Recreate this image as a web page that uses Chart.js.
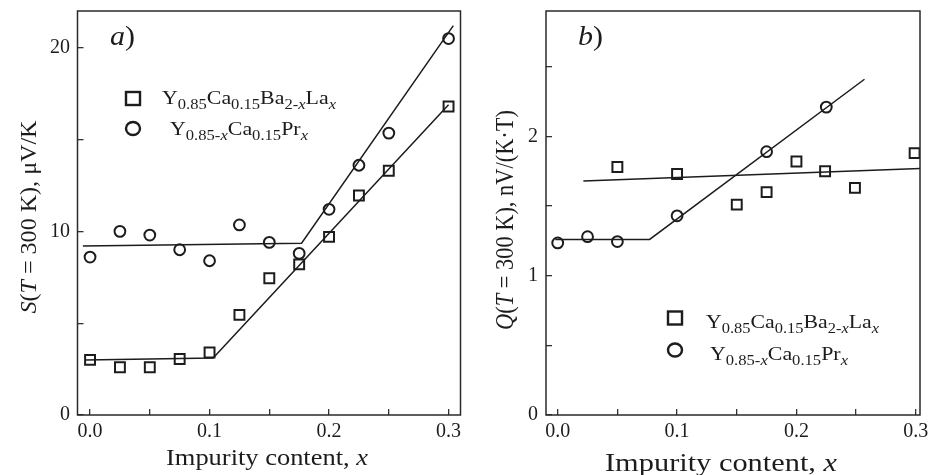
<!DOCTYPE html>
<html>
<head>
<meta charset="utf-8">
<script src="https://cdn.jsdelivr.net/npm/chart.js@4.4.0/dist/chart.umd.min.js"></script>
<style>
  html, body { margin: 0; padding: 0; background: #fff; }
  #wrap { position: relative; width: 929px; height: 475px; }
  .panel { position: absolute; top: 0; height: 475px; }
  #pa { left: 0; width: 470px; }
  #pb { left: 470px; width: 459px; }
</style>
</head>
<body>
<div id="wrap">
  <div class="panel" id="pa"><canvas id="chartA"></canvas></div>
  <div class="panel" id="pb"><canvas id="chartB"></canvas></div>
</div>
<script>
// a) thermopower S(T = 300 K)
const xA = [0, 0.025, 0.05, 0.075, 0.1, 0.125, 0.15, 0.175, 0.2, 0.225, 0.25, 0.3];
const sLa = [3.0, 2.6, 2.6, 3.05, 3.4, 5.45, 7.45, 8.2, 9.7, 11.95, 13.3, 16.8];
const sPr = [8.6, 10.0, 9.8, 9.0, 8.4, 10.35, 9.4, 8.8, 11.2, 13.6, 15.35, 20.5];
const fitLaAx = [-0.004, 0.103, 0.3];
const fitLaAy = [3.0, 3.1, 16.9];
const fitPrAx = [-0.006, 0.177, 0.304];
const fitPrAy = [9.2, 9.35, 21.2];

// b) Q(T = 300 K)
const xBLa = [0.05, 0.1, 0.15, 0.175, 0.2, 0.224, 0.249, 0.299];
const qLa = [1.78, 1.73, 1.51, 1.60, 1.82, 1.75, 1.63, 1.88];
const xBPr = [0, 0.025, 0.05, 0.1, 0.175, 0.225];
const qPr = [1.235, 1.28, 1.245, 1.43, 1.89, 2.21];
const fitLaBx = [0.0215, 0.305];
const fitLaBy = [1.68, 1.77];
const fitPrBx = [-0.002, 0.077, 0.257];
const fitPrBy = [1.26, 1.26, 2.41];

// ticks
const xTicks = [0, 0.05, 0.1, 0.15, 0.2, 0.25, 0.3];
const xLabels = ['0.0', '', '0.1', '', '0.2', '', '0.3'];
const yTicksA = [0, 5, 10, 15, 20];
const yLabelsA = ['0', '', '10', '', '20'];
const yTicksB = [0, 0.5, 1, 1.5, 2, 2.5];
const yLabelsB = ['0', '', '1', '', '2', ''];

const ink = '#1c1c1c';
const serif = '"Liberation Serif", "Times New Roman", serif';

// legend / title text pieces
const legLa = [{t: 'Y'}, {t: '0.85', sub: 1}, {t: 'Ca'}, {t: '0.15', sub: 1}, {t: 'Ba'}, {t: '2-', sub: 1}, {t: 'x', sub: 1, it: 1}, {t: 'La'}, {t: 'x', sub: 1, it: 1}];
const legPr = [{t: 'Y'}, {t: '0.85-', sub: 1}, {t: 'x', sub: 1, it: 1}, {t: 'Ca'}, {t: '0.15', sub: 1}, {t: 'Pr'}, {t: 'x', sub: 1, it: 1}];
const xTitle = [{t: 'Impurity content, '}, {t: 'x', it: 1}];
const yTitleA = [{t: 'S', it: 1}, {t: '('}, {t: 'T', it: 1}, {t: ' = 300 K), \u03bcV/K'}];
const yTitleB = [{t: 'Q', it: 1}, {t: '('}, {t: 'T', it: 1}, {t: ' = 300 K), nV/(K\u00b7T)'}];

function fontOf(s, size) {
  const px = s.sub ? size * 0.76 : size;
  return (s.it ? 'italic ' : '') + px.toFixed(1) + 'px ' + serif;
}

function richWidth(ctx, segs, size) {
  let w = 0;
  for (const s of segs) { ctx.font = fontOf(s, size); w += ctx.measureText(s.t).width; }
  return w;
}

// draws text runs with italics and subscripts, squeezed/stretched to a target width
function drawRich(ctx, segs, o) {
  ctx.save();
  ctx.translate(o.x, o.y);
  if (o.rot) ctx.rotate(o.rot);
  const nat = richWidth(ctx, segs, o.size);
  ctx.scale(o.w ? o.w / nat : 1, 1);
  let cx = o.center ? -nat / 2 : 0;
  ctx.textAlign = 'left';
  ctx.textBaseline = 'alphabetic';
  ctx.fillStyle = ink;
  for (const s of segs) {
    ctx.font = fontOf(s, o.size);
    ctx.fillText(s.t, cx, s.sub ? o.size * 0.28 : 0);
    cx += ctx.measureText(s.t).width;
  }
  ctx.restore();
}

function deco(p) {
  return {
    id: 'deco',
    afterDraw(chart) {
      const ctx = chart.ctx, a = chart.chartArea;
      ctx.save();
      ctx.strokeStyle = '#2a2a2a';
      ctx.lineWidth = 1.5;
      ctx.strokeRect(a.left, a.top, a.right - a.left, a.bottom - a.top);
      // legend markers
      ctx.strokeStyle = ink;
      ctx.lineWidth = 2.4;
      ctx.strokeRect(p.leg.mx - 7, p.leg.y1 - 6.5, 14, 13);
      ctx.beginPath();
      ctx.ellipse(p.leg.mx, p.leg.y2, 7, 6.5, 0, 0, Math.PI * 2);
      ctx.stroke();
      ctx.restore();

      drawRich(ctx, legLa, {x: p.leg.t1x, y: p.leg.b1, size: 19, w: p.leg.w1});
      drawRich(ctx, legPr, {x: p.leg.t2x, y: p.leg.b2, size: 19, w: p.leg.w2});
      drawRich(ctx, [{t: p.tag.t, it: 1}, {t: ')'}], {x: p.tag.x, y: p.tag.y, size: 28, w: 25});
      drawRich(ctx, xTitle, {x: p.xt.x, y: p.xt.y, size: p.xt.size, w: p.xt.w, center: 1});
      drawRich(ctx, p.yt.segs, {x: p.yt.x, y: p.yt.y, size: p.yt.size, w: p.yt.w, center: 1, rot: -Math.PI / 2});
    }
  };
}

function pts(xs, ys) { return xs.map((x, i) => ({x, y: ys[i]})); }

function markers(xs, ys, style, r) {
  return {
    data: pts(xs, ys), showLine: false, pointStyle: style, pointRadius: r,
    pointBorderWidth: 2, pointBorderColor: ink, pointBackgroundColor: 'rgba(255,255,255,0)',
    borderColor: ink
  };
}

function fit(xs, ys) {
  return { data: pts(xs, ys), showLine: true, borderColor: ink, borderWidth: 1.5, pointRadius: 0, fill: false };
}

function scales(o) {
  const grid = { drawOnChartArea: false, drawTicks: true, tickLength: -6, color: '#333', lineWidth: 1.3 };
  const tfont = { family: serif, size: 20 };
  return {
    x: {
      type: 'linear', min: o.xmin, max: o.xmax,
      afterBuildTicks: s => { s.ticks = xTicks.map(v => ({value: v})); },
      afterFit: s => { s.height = 60; s.paddingLeft = 0; s.paddingRight = 0; },
      border: { display: false },
      grid,
      ticks: { autoSkip: false, maxRotation: 0, padding: 11, color: ink, font: tfont, callback: (v, i) => xLabels[i] }
    },
    y: {
      type: 'linear', min: 0, max: o.ymax,
      afterBuildTicks: s => { s.ticks = o.yTicks.map(v => ({value: v})); },
      afterFit: s => { s.width = o.yw; s.paddingTop = 0; s.paddingBottom = 0; },
      border: { display: false },
      grid,
      ticks: { autoSkip: false, padding: o.ypad, color: ink, font: tfont, callback: (v, i) => o.yLabels[i] }
    }
  };
}

function baseOptions(o) {
  return {
    responsive: true,
    maintainAspectRatio: false,
    animation: false,
    layout: { padding: { left: 0, right: o.padR, top: 11, bottom: 0 } },
    plugins: { legend: { display: false }, tooltip: { enabled: false } },
    scales: scales(o)
  };
}

new Chart(document.getElementById('chartA'), {
  type: 'scatter',
  data: {
    datasets: [
      fit(fitLaAx, fitLaAy),
      fit(fitPrAx, fitPrAy),
      markers(xA, sLa, 'rect', 7),
      markers(xA, sPr, 'circle', 5.4)
    ]
  },
  options: baseOptions({ xmin: -0.0105, xmax: 0.31, ymax: 22, yTicks: yTicksA, yLabels: yLabelsA, yw: 77.5, ypad: 13.5, padR: 9.5 }),
  plugins: [deco({
    tag: { t: 'a', x: 110, y: 45 },
    leg: { mx: 133, y1: 98.5, y2: 128.5, t1x: 162, b1: 104, w1: 174, t2x: 170, b2: 135, w2: 138 },
    xt: { x: 267, y: 465, w: 202, size: 23 },
    yt: { segs: yTitleA, x: 36, y: 217, w: 193, size: 23 }
  })]
});

new Chart(document.getElementById('chartB'), {
  type: 'scatter',
  data: {
    datasets: [
      fit(fitLaBx, fitLaBy),
      fit(fitPrBx, fitPrBy),
      markers(xBLa, qLa, 'rect', 7),
      markers(xBPr, qPr, 'circle', 5.4)
    ]
  },
  options: baseOptions({ xmin: -0.0098, xmax: 0.3035, ymax: 2.9, yTicks: yTicksB, yLabels: yLabelsB, yw: 76, ypad: 14, padR: 9 }),
  plugins: [deco({
    tag: { t: 'b', x: 108, y: 45 },
    leg: { mx: 205, y1: 318, y2: 350, t1x: 236, b1: 328, w1: 173, t2x: 240, b2: 360, w2: 138 },
    xt: { x: 251, y: 471, w: 232, size: 25 },
    yt: { segs: yTitleB, x: 42.5, y: 220, w: 220, size: 25 }
  })]
});
</script>
</body>
</html>
